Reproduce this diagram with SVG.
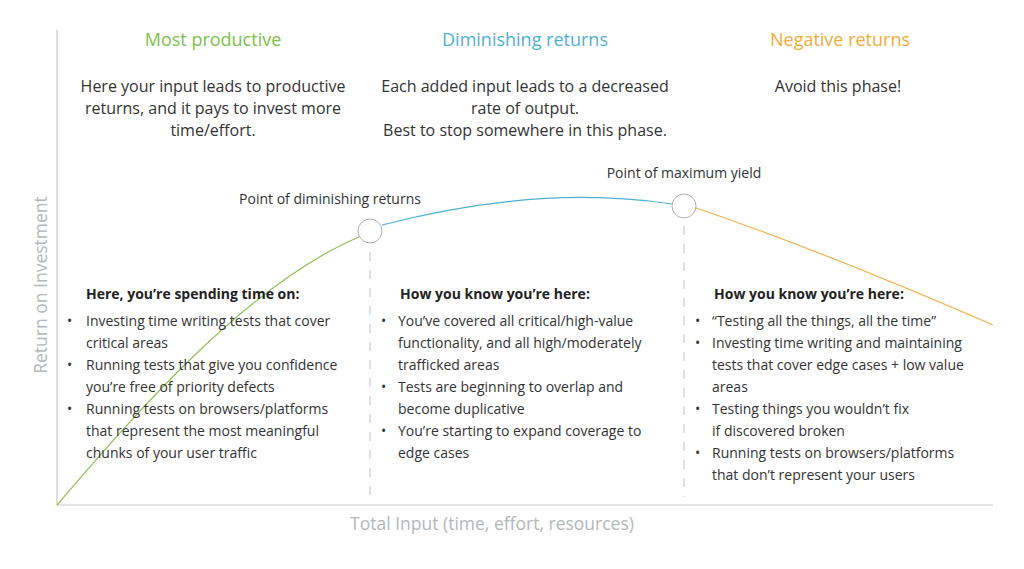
<svg xmlns="http://www.w3.org/2000/svg" width="1024" height="569" viewBox="0 0 1024 569">
<style>
text{font-family:"Open Sans","Noto Sans","Liberation Sans",sans-serif;fill:#333}
.h{font-size:18px;text-anchor:middle}
.p{font-size:16px;text-anchor:middle}
.b{font-size:14px}
.bh{font-size:14px;font-weight:bold;fill:#222}
.ax{font-size:17.5px;fill:#b3b8ba}
.lbl{font-size:14px;text-anchor:middle}
.axis{stroke:#c8c8c8;stroke-width:1.2;fill:none}
.dash{stroke:#c0c0c0;stroke-width:1;stroke-dasharray:9 9;fill:none}
.pt{fill:#fff;stroke:#b0b0b0;stroke-width:1}
</style>
<g id="axes">
<line class="axis" x1="57" y1="30" x2="57" y2="505"/>
<line class="axis" x1="57" y1="505" x2="993" y2="505"/>
<text class="ax" transform="translate(47,285) rotate(-90)" text-anchor="middle">Return on Investment</text>
<text class="ax" x="492" y="530" text-anchor="middle">Total Input (time, effort, resources)</text>
</g>
<g id="connectors">
<path d="M57,505 C130,420 245,285 359,237" stroke="#8cc152" stroke-width="1.2" fill="none"/>
<path d="M382,225 Q540,184 672,204" stroke="#4fb0d6" stroke-width="1.2" fill="none"/>
<path d="M696,208 Q820,250 993,325" stroke="#f5b24a" stroke-width="1.2" fill="none"/>
<line class="dash" x1="370" y1="252" x2="370" y2="500"/>
<line class="dash" x1="684" y1="226" x2="684" y2="497"/>
</g>
<g id="phase-productive">
<text class="h" x="213" y="46" style="fill:#7dc24b">Most productive</text>
<text class="p" x="213" y="92">Here your input leads to productive</text>
<text class="p" x="213" y="114">returns, and it pays to invest more</text>
<text class="p" x="213" y="136">time/effort.</text>
</g>
<g id="phase-diminishing">
<text class="h" x="525" y="46" style="fill:#4fb0d6">Diminishing returns</text>
<text class="p" x="525" y="92">Each added input leads to a decreased</text>
<text class="p" x="525" y="114">rate of output.</text>
<text class="p" x="525" y="136">Best to stop somewhere in this phase.</text>
</g>
<g id="phase-negative">
<text class="h" x="840" y="46" style="fill:#f2ac3a">Negative returns</text>
<text class="p" x="838" y="92">Avoid this phase!</text>
</g>
<g id="point-diminishing">
<circle class="pt" cx="370" cy="231" r="12"/>
<text class="lbl" x="330" y="204">Point of diminishing returns</text>
</g>
<g id="point-max">
<circle class="pt" cx="684" cy="206" r="12"/>
<text class="lbl" x="684" y="178">Point of maximum yield</text>
</g>
<g id="list-productive">
<text class="bh" x="86" y="299">Here, you’re spending time on:</text>
<text class="b" x="67" y="326">•</text><text class="b" x="86" y="326">Investing time writing tests that cover</text>
<text class="b" x="86" y="348">critical areas</text>
<text class="b" x="67" y="370">•</text><text class="b" x="86" y="370">Running tests that give you confidence</text>
<text class="b" x="86" y="392">you’re free of priority defects</text>
<text class="b" x="67" y="414">•</text><text class="b" x="86" y="414">Running tests on browsers/platforms</text>
<text class="b" x="86" y="436">that represent the most meaningful</text>
<text class="b" x="86" y="458">chunks of your user traffic</text>
</g>
<g id="list-diminishing">
<text class="bh" x="400" y="299">How you know you’re here:</text>
<text class="b" x="381" y="326">•</text><text class="b" x="398" y="326">You’ve covered all critical/high-value</text>
<text class="b" x="398" y="348">functionality, and all high/moderately</text>
<text class="b" x="398" y="370">trafficked areas</text>
<text class="b" x="381" y="392">•</text><text class="b" x="398" y="392">Tests are beginning to overlap and</text>
<text class="b" x="398" y="414">become duplicative</text>
<text class="b" x="381" y="436">•</text><text class="b" x="398" y="436">You’re starting to expand coverage to</text>
<text class="b" x="398" y="458">edge cases</text>
</g>
<g id="list-negative">
<text class="bh" x="714" y="299">How you know you’re here:</text>
<text class="b" x="695" y="326">•</text><text class="b" x="712" y="326">“Testing all the things, all the time”</text>
<text class="b" x="695" y="348">•</text><text class="b" x="712" y="348">Investing time writing and maintaining</text>
<text class="b" x="712" y="370">tests that cover edge cases + low value</text>
<text class="b" x="712" y="392">areas</text>
<text class="b" x="695" y="414">•</text><text class="b" x="712" y="414">Testing things you wouldn’t fix</text>
<text class="b" x="712" y="436">if discovered broken</text>
<text class="b" x="695" y="458">•</text><text class="b" x="712" y="458">Running tests on browsers/platforms</text>
<text class="b" x="712" y="480">that don’t represent your users</text>
</g>
</svg>
